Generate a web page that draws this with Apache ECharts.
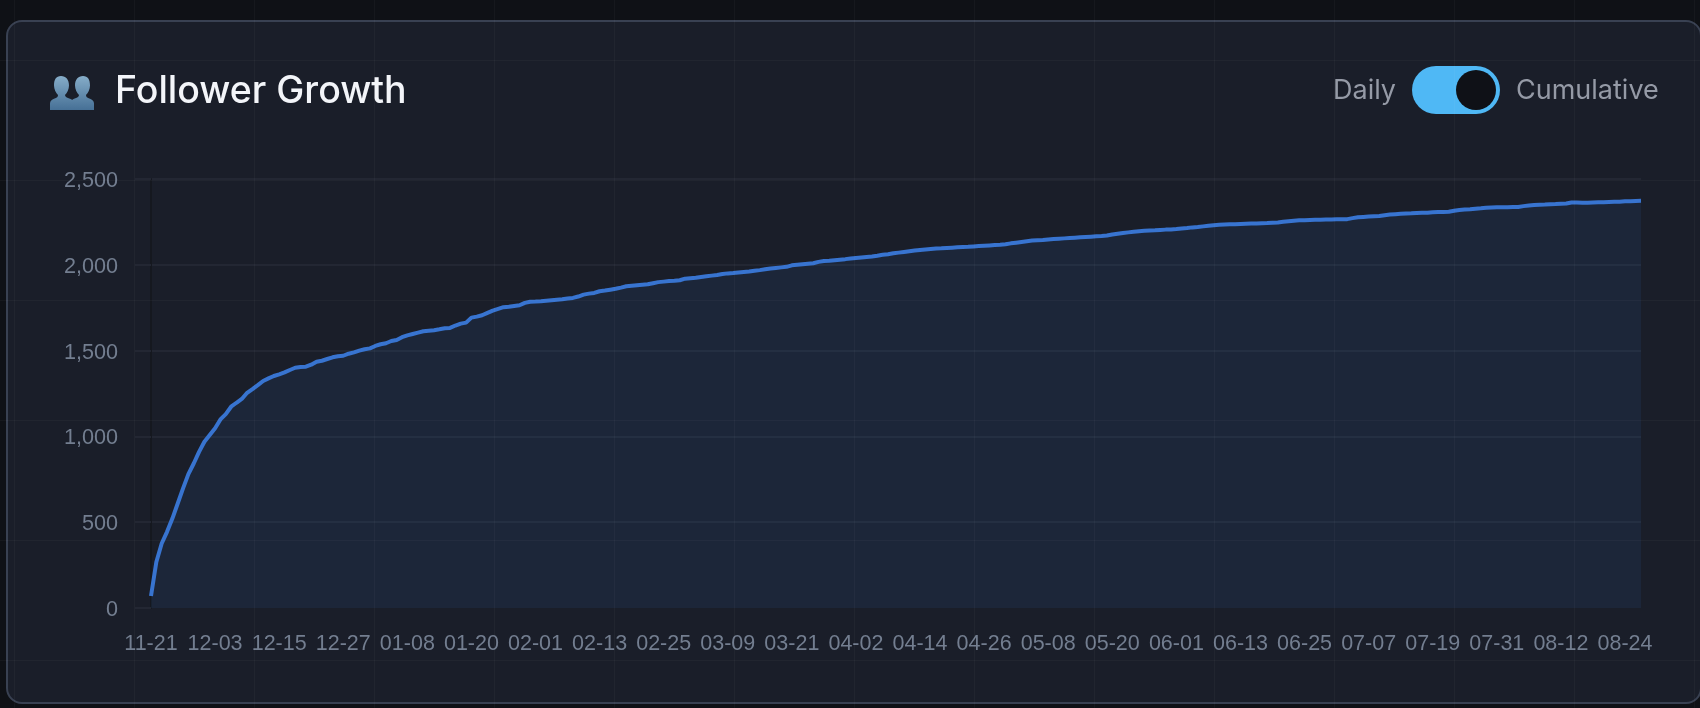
<!DOCTYPE html>
<html>
<head>
<meta charset="utf-8">
<title>Follower Growth</title>
<script src="https://cdn.jsdelivr.net/npm/echarts@6/dist/echarts.min.js"></script>
<style>
	html, body { margin: 0; padding: 0; width: 1700px; height: 708px; overflow: hidden; background: #0f1116; }
	.card { position: absolute; left: 6px; top: 20px; width: 1696px; height: 684px; box-sizing: border-box; border: 2px solid #394152; border-radius: 16px; background: #1a1e29; }
	#container_line { position: absolute; left: 0; top: 0; width: 1700px; height: 708px; }
	/* faint page grid, sits on top of everything */
	.page-grid { position: absolute; left: 0; top: 0; width: 1700px; height: 708px; pointer-events: none;
		background-image: linear-gradient(to right, rgba(255,255,255,.03) 1px, transparent 1px), linear-gradient(to bottom, rgba(255,255,255,.03) 1px, transparent 1px);
		background-size: 120px 120px; background-position: 14px 60px; }
	.icon { position: absolute; left: 50px; top: 75px; }
	.title { position: absolute; left: 115px; top: 67px; font: 500 37.5px/46px Inter, sans-serif; color: #f3f5f9; white-space: nowrap; }
	.mode { position: absolute; top: 75px; font: 400 27px/30px Inter, sans-serif; color: #959aa6; white-space: nowrap; }
	.switch { position: absolute; left: 1412px; top: 66px; width: 88px; height: 48px; border-radius: 24px; background: #4fb8f5; }
	.switch i { position: absolute; left: 44px; top: 4px; width: 40px; height: 40px; border-radius: 50%; background: #0f1117; }
</style>
</head>
<body>
<div class="card"></div>
<div id="container_line"></div>
<svg class="icon" width="44" height="36" viewBox="0 0 44 38" preserveAspectRatio="none">
	<defs>
		<linearGradient id="bust" x1="0" y1="0" x2="0" y2="1">
			<stop offset="0" stop-color="#86adc9"/>
			<stop offset="1" stop-color="#467096"/>
		</linearGradient>
	</defs>
	<path fill="url(#bust)" d="M11 1c5 0 8 4 8 10 0 4-2 8-4 10 0 2 2 3 5 4 2 .7 3 2 3 4v8H0v-7c0-3 2-4 4-5 3-1 4-2 4-4-2-2-4-6-4-10C4 5 6 1 11 1z"/>
	<path fill="url(#bust)" d="M33 1c5 0 7 4 7 10 0 4-2 8-4 10 0 2 1 3 4 4 2 1 4 2 4 5v7H21v-8c0-2 1-3 3-4 3-1 5-2 5-4-2-2-4-6-4-10 0-6 3-10 8-10z"/>
</svg>
<div class="title">Follower Growth</div>
<div class="mode" style="left:1333px">Daily</div>
<div class="switch"><i></i></div>
<div class="mode" style="left:1516px">Cumulative</div>
<div class="page-grid"></div>
<script>
var dates = [
	"11-21","11-22","11-23","11-24","11-25","11-26","11-27","11-28","11-29","11-30",
	"12-01","12-02","12-03","12-04","12-05","12-06","12-07","12-08","12-09","12-10","12-11","12-12","12-13","12-14","12-15","12-16","12-17","12-18","12-19","12-20","12-21","12-22","12-23","12-24","12-25","12-26","12-27","12-28","12-29","12-30","12-31",
	"01-01","01-02","01-03","01-04","01-05","01-06","01-07","01-08","01-09","01-10","01-11","01-12","01-13","01-14","01-15","01-16","01-17","01-18","01-19","01-20","01-21","01-22","01-23","01-24","01-25","01-26","01-27","01-28","01-29","01-30","01-31",
	"02-01","02-02","02-03","02-04","02-05","02-06","02-07","02-08","02-09","02-10","02-11","02-12","02-13","02-14","02-15","02-16","02-17","02-18","02-19","02-20","02-21","02-22","02-23","02-24","02-25","02-26","02-27","02-28",
	"03-01","03-02","03-03","03-04","03-05","03-06","03-07","03-08","03-09","03-10","03-11","03-12","03-13","03-14","03-15","03-16","03-17","03-18","03-19","03-20","03-21","03-22","03-23","03-24","03-25","03-26","03-27","03-28","03-29","03-30","03-31",
	"04-01","04-02","04-03","04-04","04-05","04-06","04-07","04-08","04-09","04-10","04-11","04-12","04-13","04-14","04-15","04-16","04-17","04-18","04-19","04-20","04-21","04-22","04-23","04-24","04-25","04-26","04-27","04-28","04-29","04-30",
	"05-01","05-02","05-03","05-04","05-05","05-06","05-07","05-08","05-09","05-10","05-11","05-12","05-13","05-14","05-15","05-16","05-17","05-18","05-19","05-20","05-21","05-22","05-23","05-24","05-25","05-26","05-27","05-28","05-29","05-30","05-31",
	"06-01","06-02","06-03","06-04","06-05","06-06","06-07","06-08","06-09","06-10","06-11","06-12","06-13","06-14","06-15","06-16","06-17","06-18","06-19","06-20","06-21","06-22","06-23","06-24","06-25","06-26","06-27","06-28","06-29","06-30",
	"07-01","07-02","07-03","07-04","07-05","07-06","07-07","07-08","07-09","07-10","07-11","07-12","07-13","07-14","07-15","07-16","07-17","07-18","07-19","07-20","07-21","07-22","07-23","07-24","07-25","07-26","07-27","07-28","07-29","07-30","07-31",
	"08-01","08-02","08-03","08-04","08-05","08-06","08-07","08-08","08-09","08-10","08-11","08-12","08-13","08-14","08-15","08-16","08-17","08-18","08-19","08-20","08-21","08-22","08-23","08-24","08-25","08-26","08-27"
];
//累计粉丝数
var followers = [
	70,268,376,444,521,609,697,780,842,910,969,1008,1047,1099,1130,1173,1196,1218,1254,1276,
	1299,1323,1338,1352,1362,1373,1387,1400,1404,1406,1418,1435,1441,1451,1461,1467,1470,1482,1490,1500,
	1508,1513,1527,1537,1543,1556,1562,1578,1589,1597,1605,1613,1616,1619,1624,1630,1632,1646,1657,1663,
	1692,1698,1706,1720,1733,1743,1753,1756,1760,1764,1778,1785,1786,1788,1791,1794,1797,1799,1803,1807,
	1815,1826,1832,1836,1846,1850,1855,1860,1867,1875,1878,1881,1884,1887,1893,1899,1902,1905,1907,1910,
	1919,1922,1925,1929,1933,1937,1941,1946,1950,1952,1955,1958,1961,1965,1969,1974,1979,1982,1985,1988,
	1997,2000,2003,2006,2009,2017,2022,2024,2027,2030,2033,2037,2040,2043,2046,2049,2053,2058,2062,2067,
	2071,2075,2079,2083,2086,2089,2092,2095,2096,2098,2100,2102,2104,2105,2107,2109,2111,2113,2115,2117,
	2120,2125,2129,2133,2137,2141,2143,2145,2148,2150,2152,2154,2156,2158,2160,2162,2164,2166,2168,2171,
	2177,2181,2185,2189,2193,2196,2198,2200,2201,2203,2205,2206,2208,2212,2214,2218,2220,2224,2228,2231,
	2233,2235,2236,2237,2238,2239,2240,2241,2242,2243,2245,2247,2251,2254,2257,2259,2260,2261,2262,2263,
	2264,2264,2265,2266,2266,2272,2277,2279,2281,2283,2285,2289,2293,2295,2297,2299,2300,2302,2303,2304,
	2306,2307,2308,2309,2315,2319,2322,2324,2327,2329,2332,2334,2336,2336,2336,2337,2337,2342,2346,2348,
	2350,2351,2353,2354,2356,2357,2363,2363,2362,2362,2363,2364,2365,2366,2367,2368,2370,2371,2372,2373
];
var yMax = 2500;
var yStep = 500;

initChart_line("container_line");
/**
 * 折线图
 * @param selector
 */
function initChart_line(selector) {
	var dom = document.getElementById(selector);
	var myChart = echarts.init(dom);
	var option = {
		animation: false,
		grid: {
			left: 151,
			right: 59,
			top: 179,
			bottom: 100
		},
		xAxis: {
			type: 'category',
			boundaryGap: false,
			data: dates,
			axisLine: {show: false},
			axisTick: {show: false},
			axisLabel: {
				interval: 11,
				margin: 25,
				color: '#737e90',
				fontFamily: 'Liberation Sans',
				fontSize: 21.5
			}
		},
		yAxis: {
			type: 'value',
			min: 0,
			max: yMax,
			interval: yStep,
			axisLine: {show: true, lineStyle: {color: '#15181f', width: 2}},
			axisTick: {show: true, length: 16, lineStyle: {color: '#232733', width: 2}},
			axisLabel: {
				margin: 33,
				formatter: function(v) {
					return '{v|' + v.toLocaleString('en-US') + '}';
				},
				rich: {
					//文字往下挪2px
					v: {
						padding: [4, 0, 0, 0],
						color: '#737e90',
						fontFamily: 'Liberation Sans',
						fontSize: 21.6
					}
				}
			},
			splitLine: {showMinLine: false, lineStyle: {color: '#232733', width: 2}}
		},
		series: [
			{
				name: 'Followers',
				type: 'line',
				data: followers,
				showSymbol: false,
				smooth: false,
				lineStyle: {color: '#3874d0', width: 4},
				areaStyle: {color: 'rgb(50,120,205)', opacity: 0.1}
			}
		]
	};
	myChart.setOption(option, true);
}
</script>
</body>
</html>
